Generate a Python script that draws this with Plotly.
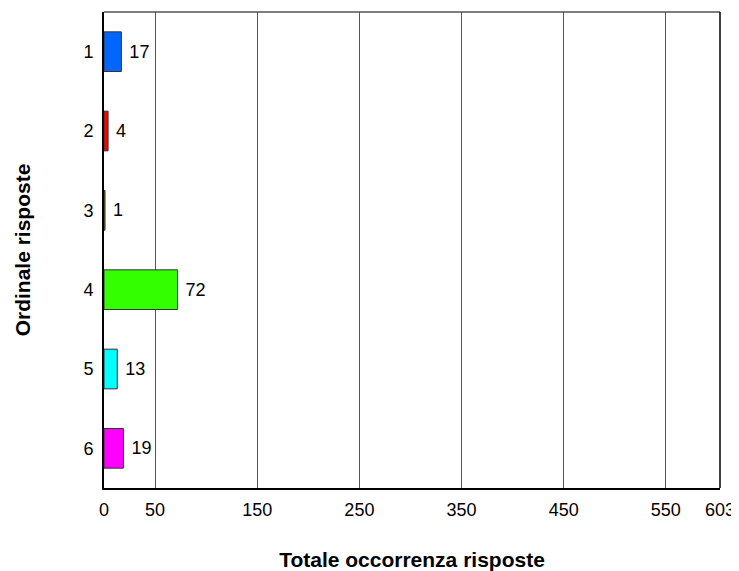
import plotly.graph_objects as go

categories = ["1", "2", "3", "4", "5", "6"]
values = [17, 4, 1, 72, 13, 19]
colors = ["#0066FF", "#FF0000", "#808000", "#33FF00", "#00FFFF", "#FF00FF"]
tick_vals = [0, 50, 150, 250, 350, 450, 550, 603]
x_max = 603

FONT = "Liberation Sans, Arial"

fig = go.Figure()
fig.add_trace(go.Bar(
    y=categories, x=values, orientation="h",
    marker=dict(color=colors, line=dict(color="#333333", width=1)),
    text=[str(v) for v in values], texttemplate=" %{text}", textposition="outside",
    textfont=dict(family=FONT, size=18, color="black"),
    width=0.5, cliponaxis=False,
))

fig.update_layout(
    width=731, height=563,
    margin=dict(l=96, r=19, t=4, b=83, autoexpand=False),
    paper_bgcolor="white", plot_bgcolor="white",
    showlegend=False,
    font=dict(family=FONT, size=18, color="black"),
    xaxis=dict(
        range=[0, x_max], tickvals=tick_vals,
        ticktext=[str(v) for v in tick_vals],
        tickfont=dict(family=FONT, size=18, color="black"),
        showgrid=True, gridcolor="#555555", gridwidth=1,
        zeroline=False, showline=True, linecolor="black", linewidth=2,
        mirror=False, ticks="outside", ticklen=4, tickcolor="rgba(0,0,0,0)",
        title=dict(text="<b>Totale occorrenza risposte</b>", standoff=35,
                   font=dict(family=FONT, size=21)),
        automargin=False, fixedrange=True,
    ),
    yaxis=dict(
        categoryorder="array", categoryarray=categories,
        autorange="reversed",
        tickfont=dict(family=FONT, size=18, color="black"),
        showgrid=False, zeroline=False, showline=True, linecolor="black", linewidth=2,
        ticks="outside", ticklen=5, tickcolor="rgba(0,0,0,0)",
        title=dict(text="<b>Ordinale risposte</b>", standoff=47,
                   font=dict(family=FONT, size=21)),
        automargin=False,
    ),
    shapes=[
        dict(type="line", xref="paper", yref="paper", x0=0, x1=1, y0=1, y1=1,
             line=dict(color="#555555", width=1.5)),
        dict(type="line", xref="paper", yref="paper", x0=1, x1=1, y0=0, y1=1,
             line=dict(color="black", width=1.5)),
    ],
)

fig.write_html("out.html")
